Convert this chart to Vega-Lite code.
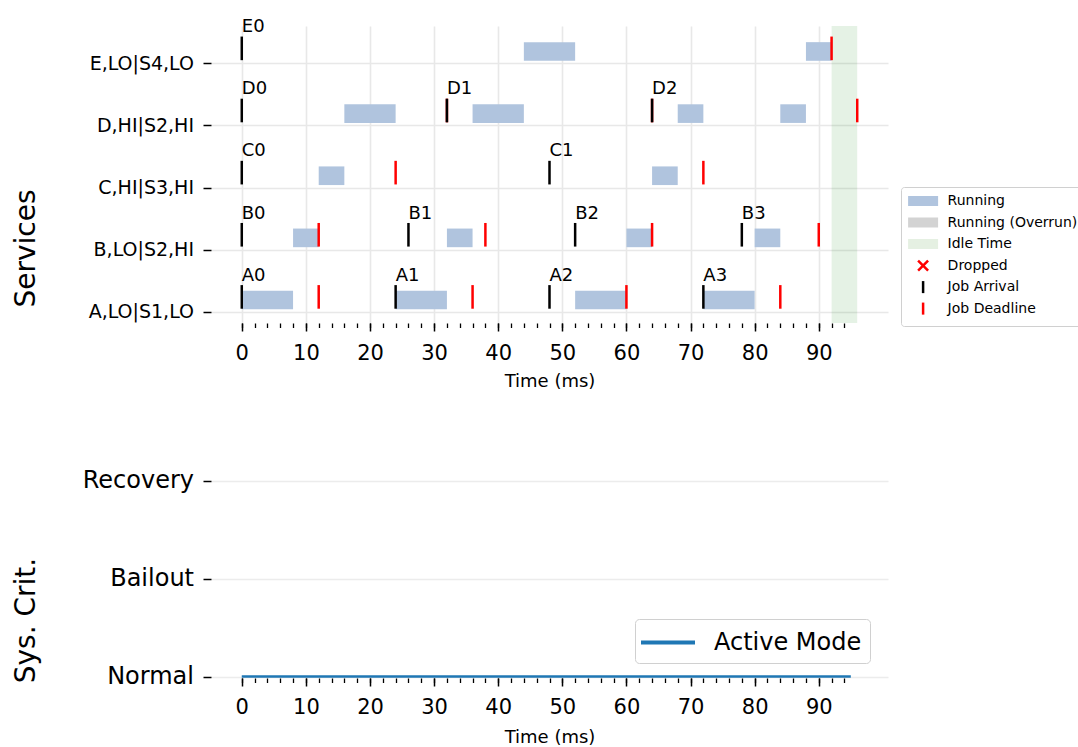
{
  "$schema": "https://vega.github.io/schema/vega-lite/v6.json",
  "padding": {"left": 11, "top": 18, "right": 4, "bottom": 4},
  "config": {
    "font": "DejaVu Sans",
    "view": {"stroke": null},
    "axis": {"labelColor": "black", "titleColor": "black", "tickColor": "black", "titleFontWeight": "normal", "domain": false}
  },
  "datasets": {
    "segments": [
      {"service": "A,LO|S1,LO", "row": 0, "start": 0, "end": 8},
      {"service": "A,LO|S1,LO", "row": 0, "start": 24, "end": 32},
      {"service": "A,LO|S1,LO", "row": 0, "start": 52, "end": 60},
      {"service": "A,LO|S1,LO", "row": 0, "start": 72, "end": 80},
      {"service": "B,LO|S2,HI", "row": 1, "start": 8, "end": 12},
      {"service": "B,LO|S2,HI", "row": 1, "start": 32, "end": 36},
      {"service": "B,LO|S2,HI", "row": 1, "start": 60, "end": 64},
      {"service": "B,LO|S2,HI", "row": 1, "start": 80, "end": 84},
      {"service": "C,HI|S3,HI", "row": 2, "start": 12, "end": 16},
      {"service": "C,HI|S3,HI", "row": 2, "start": 64, "end": 68},
      {"service": "D,HI|S2,HI", "row": 3, "start": 16, "end": 24},
      {"service": "D,HI|S2,HI", "row": 3, "start": 36, "end": 44},
      {"service": "D,HI|S2,HI", "row": 3, "start": 68, "end": 72},
      {"service": "D,HI|S2,HI", "row": 3, "start": 84, "end": 88},
      {"service": "E,LO|S4,LO", "row": 4, "start": 44, "end": 52},
      {"service": "E,LO|S4,LO", "row": 4, "start": 88, "end": 92}
    ],
    "idle": [{"start": 92, "end": 96}],
    "jobs": [
      {"service": "A,LO|S1,LO", "row": 0, "job": "A0", "arrival": 0, "deadline": 12},
      {"service": "A,LO|S1,LO", "row": 0, "job": "A1", "arrival": 24, "deadline": 36},
      {"service": "A,LO|S1,LO", "row": 0, "job": "A2", "arrival": 48, "deadline": 60},
      {"service": "A,LO|S1,LO", "row": 0, "job": "A3", "arrival": 72, "deadline": 84},
      {"service": "B,LO|S2,HI", "row": 1, "job": "B0", "arrival": 0, "deadline": 12},
      {"service": "B,LO|S2,HI", "row": 1, "job": "B1", "arrival": 26, "deadline": 38},
      {"service": "B,LO|S2,HI", "row": 1, "job": "B2", "arrival": 52, "deadline": 64},
      {"service": "B,LO|S2,HI", "row": 1, "job": "B3", "arrival": 78, "deadline": 90},
      {"service": "C,HI|S3,HI", "row": 2, "job": "C0", "arrival": 0, "deadline": 24},
      {"service": "C,HI|S3,HI", "row": 2, "job": "C1", "arrival": 48, "deadline": 72},
      {"service": "D,HI|S2,HI", "row": 3, "job": "D0", "arrival": 0, "deadline": 32},
      {"service": "D,HI|S2,HI", "row": 3, "job": "D1", "arrival": 32, "deadline": 64},
      {"service": "D,HI|S2,HI", "row": 3, "job": "D2", "arrival": 64, "deadline": 96},
      {"service": "E,LO|S4,LO", "row": 4, "job": "E0", "arrival": 0, "deadline": 92}
    ],
    "dropped": [],
    "mode": [
      {"t": 0, "level": 0, "series": "Active Mode"},
      {"t": 95, "level": 0, "series": "Active Mode"}
    ]
  },
  "vconcat": [
    {
      "width": 677,
      "height": 297,
      "layer": [
        {
          "data": {"name": "idle"},
          "mark": {"type": "rect", "color": "green", "opacity": 0.1},
          "encoding": {
            "x": {"field": "start", "type": "quantitative", "scale": {"domain": [-4.8, 100.8], "nice": false, "zero": false},
              "axis": {"orient": "bottom", "values": [0,10,20,30,40,50,60,70,80,90], "format": "d", "labelFontSize": 21, "tickSize": 8, "tickWidth": 1.5, "labelPadding": 11,
                "grid": true, "gridColor": "#e8e8e8", "gridWidth": 1.6, "title": "Time (ms)", "titleFontSize": 18, "titleBaseline": "alphabetic", "titleY": 63}},
            "x2": {"field": "end"}
          }
        },
        {
          "data": {"name": "segments"},
          "transform": [{"calculate": "datum.row + 0.04", "as": "y0"}, {"calculate": "datum.row + 0.34", "as": "y1"}],
          "mark": {"type": "rect", "color": "#b0c4de"},
          "encoding": {
            "x": {"field": "start", "type": "quantitative", "scale": {"domain": [-4.8, 100.8], "nice": false, "zero": false},
              "axis": {"orient": "bottom", "values": [0,2,4,6,8,10,12,14,16,18,20,22,24,26,28,30,32,34,36,38,40,42,44,46,48,50,52,54,56,58,60,62,64,66,68,70,72,74,76,78,80,82,84,86,88,90,92,94],
                "labels": false, "tickSize": 4.5, "tickWidth": 1.3, "grid": false, "title": null}},
            "x2": {"field": "end"},
            "y": {"field": "y0", "type": "quantitative", "scale": {"domain": [-0.18, 4.6], "nice": false, "zero": false},
              "axis": {"values": [0,1,2,3,4], "labelExpr": "['A,LO|S1,LO','B,LO|S2,HI','C,HI|S3,HI','D,HI|S2,HI','E,LO|S4,LO'][datum.value]",
                "labelFontSize": 19, "tickSize": 8, "tickWidth": 1.5, "labelPadding": 9.5, "grid": true, "gridColor": "#e8e8e8", "gridWidth": 1.6,
                "title": "Services", "titleFontSize": 28, "titleX": -185, "titleY": 222, "titleAngle": -90, "titleAlign": "center", "titleBaseline": "middle"}},
            "y2": {"field": "y1"}
          }
        },
        {
          "data": {"name": "jobs"},
          "transform": [{"calculate": "datum.row + 0.05", "as": "m0"}, {"calculate": "datum.row + 0.43", "as": "m1"}],
          "mark": {"type": "rule", "color": "#ff0000", "strokeWidth": 2.5},
          "encoding": {
            "x": {"field": "deadline", "type": "quantitative", "scale": {"domain": [-4.8, 100.8], "nice": false, "zero": false}, "axis": null},
            "y": {"field": "m0", "type": "quantitative", "scale": {"domain": [-0.18, 4.6], "nice": false, "zero": false}},
            "y2": {"field": "m1"}
          }
        },
        {
          "data": {"name": "jobs"},
          "transform": [{"calculate": "datum.row + 0.05", "as": "m0"}, {"calculate": "datum.row + 0.43", "as": "m1"}],
          "mark": {"type": "rule", "color": "black", "strokeWidth": 2.5},
          "encoding": {
            "x": {"field": "arrival", "type": "quantitative", "scale": {"domain": [-4.8, 100.8], "nice": false, "zero": false}, "axis": null},
            "y": {"field": "m0", "type": "quantitative", "scale": {"domain": [-0.18, 4.6], "nice": false, "zero": false}},
            "y2": {"field": "m1"}
          }
        },
        {
          "data": {"name": "jobs"},
          "transform": [{"calculate": "datum.row + 0.5", "as": "ty"}],
          "mark": {"type": "text", "align": "left", "baseline": "alphabetic", "fontSize": 18, "color": "black"},
          "encoding": {
            "x": {"field": "arrival", "type": "quantitative", "scale": {"domain": [-4.8, 100.8], "nice": false, "zero": false}, "axis": null},
            "y": {"field": "ty", "type": "quantitative", "scale": {"domain": [-0.18, 4.6], "nice": false, "zero": false}},
            "text": {"field": "job"}
          }
        },
        {
          "data": {"name": "dropped"},
          "mark": {"type": "point", "strokeWidth": 2.5, "opacity": 1},
          "encoding": {
            "x": {"field": "t", "type": "quantitative", "scale": {"domain": [-4.8, 100.8], "nice": false, "zero": false}, "axis": null},
            "y": {"field": "row", "type": "quantitative", "scale": {"domain": [-0.18, 4.6], "nice": false, "zero": false}},
            "stroke": {"field": "kind", "type": "nominal",
              "scale": {"domain": ["Running", "Running (Overrun)", "Idle Time", "Dropped", "Job Arrival", "Job Deadline"],
                        "range": ["#b0c4de", "#d3d3d3", "#e5f0e2", "#ff0000", "#000000", "#ff0000"]},
              "legend": {"title": null, "orient": "none", "legendX": 690, "legendY": 161, "symbolSize": 196, "symbolStrokeWidth": 2.5, "symbolOpacity": 1,
                "symbolOffset": 8, "labelOffset": 16, "padding": 5.6, "rowPadding": -1.5, "gridAlign": "all", "labelFontSize": 14, "labelColor": "black",
                "fillColor": "white", "strokeColor": "#d0d0d0", "cornerRadius": 3}},
            "fill": {"field": "kind", "type": "nominal",
              "scale": {"domain": ["Running", "Running (Overrun)", "Idle Time", "Dropped", "Job Arrival", "Job Deadline"],
                        "range": ["#b0c4de", "#d3d3d3", "#e5f0e2", "transparent", "transparent", "transparent"]},
              "legend": {"title": null, "orient": "none", "legendX": 690, "legendY": 161}},
            "shape": {"field": "kind", "type": "nominal",
              "scale": {"domain": ["Running", "Running (Overrun)", "Idle Time", "Dropped", "Job Arrival", "Job Deadline"],
                        "range": ["M-1.964,-0.536H1.964V0.536H-1.964Z", "M-1.964,-0.536H1.964V0.536H-1.964Z", "M-1.964,-0.536H1.964V0.536H-1.964Z",
                                  "M-0.714,-0.714L0.714,0.714M-0.714,0.714L0.714,-0.714", "M0,-0.86V0.86", "M0,-0.86V0.86"]},
              "legend": {"title": null, "orient": "none", "legendX": 690, "legendY": 161}}
          }
        }
      ],
      "resolve": {"axis": {"x": "independent"}}
    },
    {
      "width": 677,
      "height": 211,
      "data": {"name": "mode"},
      "layer": [
        {
          "mark": {"type": "line", "strokeWidth": 2.5},
          "encoding": {
            "x": {"field": "t", "type": "quantitative", "scale": {"domain": [-4.8, 100.8], "nice": false, "zero": false},
              "axis": {"orient": "bottom", "values": [0,10,20,30,40,50,60,70,80,90], "format": "d", "labelFontSize": 21, "tickSize": 8, "tickWidth": 1.5, "labelPadding": 10,
                "grid": false, "title": "Time (ms)", "titleFontSize": 18, "titleBaseline": "alphabetic", "titleY": 64}},
            "y": {"field": "level", "type": "quantitative", "scale": {"domain": [-0.015, 2.14], "nice": false, "zero": false},
              "axis": {"values": [0,1,2], "labelExpr": "['Normal','Bailout','Recovery'][datum.value]",
                "labelFontSize": 24, "tickSize": 8, "tickWidth": 1.5, "labelPadding": 9.5, "grid": true, "gridColor": "#ececec", "gridWidth": 1.4,
                "title": "Sys. Crit.", "titleFontSize": 28, "titleX": -185, "titleY": 153, "titleAngle": -90, "titleAlign": "center", "titleBaseline": "middle"}},
            "stroke": {"field": "series", "type": "nominal", "scale": {"domain": ["Active Mode"], "range": ["#1f77b4"]},
              "legend": {"title": null, "orient": "none", "legendX": 424, "legendY": 152, "symbolType": "M-2,0H2", "symbolSize": 729,
                "symbolStrokeWidth": 4, "symbolOffset": 9.5, "labelOffset": 30.5, "padding": 8, "labelFontSize": 24, "labelColor": "black",
                "fillColor": "white", "strokeColor": "#d0d0d0", "cornerRadius": 4}}
          }
        },
        {
          "mark": {"type": "point", "opacity": 0},
          "encoding": {
            "x": {"field": "t", "type": "quantitative", "scale": {"domain": [-4.8, 100.8], "nice": false, "zero": false},
              "axis": {"orient": "bottom", "values": [0,2,4,6,8,10,12,14,16,18,20,22,24,26,28,30,32,34,36,38,40,42,44,46,48,50,52,54,56,58,60,62,64,66,68,70,72,74,76,78,80,82,84,86,88,90,92,94],
                "labels": false, "tickSize": 4.5, "tickWidth": 1.3, "grid": false, "title": null}},
            "y": {"field": "level", "type": "quantitative", "scale": {"domain": [-0.015, 2.14], "nice": false, "zero": false}}
          }
        }
      ],
      "resolve": {"axis": {"x": "independent"}}
    }
  ],
  "spacing": 144,
  "bounds": "flush",
  "resolve": {
    "scale": {"color": "independent", "shape": "independent", "stroke": "independent", "fill": "independent"},
    "legend": {"color": "independent", "shape": "independent", "stroke": "independent", "fill": "independent"}
  }
}
